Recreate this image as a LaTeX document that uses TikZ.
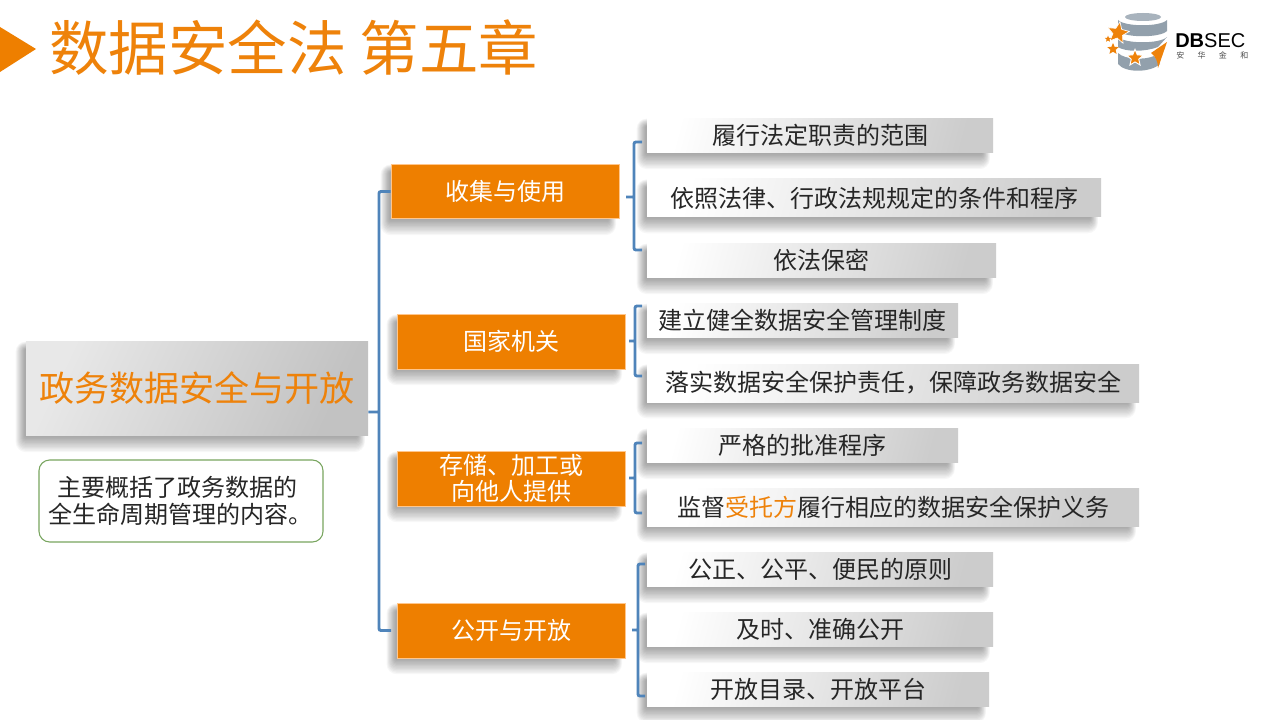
\documentclass[tikz,border=0pt]{standalone}
\usepackage{fontspec}
\setmainfont{Noto Sans CJK SC}
\newfontfamily\latinfont{Liberation Sans}
\usetikzlibrary{backgrounds}
\usetikzlibrary{shapes.geometric}
\definecolor{title_orange}{RGB}{238, 130, 10}
\definecolor{box_orange}{RGB}{238, 127, 0}
\definecolor{link_blue}{RGB}{79, 132, 186}
\definecolor{note_green}{RGB}{120, 165, 95}
\definecolor{logo_grey}{RGB}{146, 160, 172}
\tikzset{
  rootbox/.style={left color=black!9, middle color=black!4, right color=black!24, shading angle=65, text=title_orange, font=\fontsize{26.3}{30}\selectfont, inner sep=0pt},
  groupbox/.style={fill=box_orange, draw=orange!45, line width=0.5pt, text=white, font=\fontsize{18}{20}\selectfont, align=center, inner sep=0pt},
  leafbox/.style={left color=white, middle color=black!4, right color=black!20, shading angle=75, text=black!85, font=\fontsize{18}{20}\selectfont, inner sep=0pt},
  link/.style={link_blue, line width=2.2pt, rounded corners=1.5pt},
  badge/.style={star, star points=5, star point ratio=2.2, fill=title_orange, inner sep=0pt}
}
\begin{document}
\begin{tikzpicture}[x=0.75pt, y=-0.75pt]
\useasboundingbox (0,0) rectangle (1280,720);
% title
\fill[box_orange] (0,27) -- (36,49) -- (0,72) -- cycle;
\node[text=title_orange, font=\fontsize{44.6}{50}\selectfont, anchor=west, inner sep=0pt] (title) at (49,48) {数据安全法 第五章};
% logo
\fill[logo_grey!80] (1143,17) ellipse (18 and 4);
\fill[logo_grey] (1118,20) .. controls (1125,27) and (1160,27) .. (1167,20) -- (1167,31) .. controls (1160,38) and (1125,38) .. (1118,31) -- cycle;
\fill[logo_grey] (1118,37) .. controls (1125,44) and (1160,44) .. (1167,37) -- (1158,47) .. controls (1145,52) and (1125,52) .. (1118,47) -- cycle;
\fill[logo_grey] (1118,53) .. controls (1125,60) and (1145,60) .. (1154,56) -- (1160,64) .. controls (1150,73) and (1125,73) .. (1118,64) -- cycle;
\node[badge, minimum size=17pt, rotate=-10, draw=white, line width=0.5pt] (logostara) at (1118,33) {};
\node[badge, minimum size=5pt] (logostarb) at (1108,39) {};
\node[badge, minimum size=9pt] (logostarc) at (1113,49) {};
\node[badge, minimum size=13pt, draw=white, line width=0.7pt] (logostard) at (1135,58) {};
\fill[title_orange] (1167,42) -- (1158,68) .. controls (1158,62) and (1156,57) .. (1151,53) -- cycle;
\node[font=\latinfont\fontsize{15}{15}\selectfont, anchor=west, inner sep=0pt] (logotext) at (1175,41) {\textbf{DB}SEC};
\node[font=\fontsize{6}{6}\selectfont, text=black!70, anchor=west, inner sep=0pt] (logosub) at (1176,55) {安\hspace{10pt}华\hspace{10pt}金\hspace{10pt}和};
% left part
\node[rootbox, minimum width=256.5pt, minimum height=71pt] (root) at (197,388.5) {政务数据安全与开放};
\node[draw=note_green, line width=0.8pt, rounded corners=8pt, minimum width=213pt, minimum height=61.5pt, font=\fontsize{18}{20}\selectfont, align=center, inner sep=0pt, text=black!85] (note) at (181,501) {主要概括了政务数据的\hspace*{5pt}\\\hspace*{-1pt}全生命周期管理的内容。};
% groups
\node[groupbox, minimum width=171pt, minimum height=41pt] (collect) at (505,191.5) {收集与使用};
\node[groupbox, minimum width=171pt, minimum height=41pt] (organ) at (511,341.5) {国家机关};
\node[groupbox, minimum width=171pt, minimum height=41pt] (store) at (511,478.5) {存储、加工或\\[-1pt]向他人提供};
\node[groupbox, minimum width=171pt, minimum height=41pt] (public) at (511,630.5) {公开与开放};
% leaves
\node[leafbox, minimum width=259.5pt, minimum height=26pt] (a1) at (820,135.5) {履行法定职责的范围};
\node[leafbox, minimum width=340.5pt, minimum height=28.5pt] (a2) at (874,198) {依照法律、行政法规规定的条件和程序};
\node[leafbox, minimum width=261.75pt, minimum height=26pt] (a3) at (821.5,260.5) {依法保密};
\node[leafbox, minimum width=233.25pt, minimum height=26pt] (b1) at (802.5,320.5) {建立健全数据安全管理制度};
\node[leafbox, minimum width=369pt, minimum height=28.5pt] (b2) at (893,383) {落实数据安全保护责任，保障政务数据安全};
\node[leafbox, minimum width=233.25pt, minimum height=26pt] (c1) at (802.5,445.5) {严格的批准程序};
\node[leafbox, minimum width=369pt, minimum height=28.5pt] (c2) at (893,507) {监督\textcolor{title_orange}{受托方}履行相应的数据安全保护义务};
\node[leafbox, minimum width=259.5pt, minimum height=26pt] (d1) at (820,569.5) {公正、公平、便民的原则};
\node[leafbox, minimum width=259.5pt, minimum height=26pt] (d2) at (820,629.5) {及时、准确公开};
\node[leafbox, minimum width=256.5pt, minimum height=26pt] (d3) at (818,689.5) {开放目录、开放平台};
% shadows
\begin{scope}[on background layer]
\fill[white] (0,0) rectangle (1280,720);
\foreach \n in {root,collect,organ,store,public,a1,a2,a3,b1,b2,c1,c2,d1,d2,d3}
  \foreach \g in {0,...,11}
    \fill[black, opacity=0.03, rounded corners={(1+0.6*\g)*1pt}]
      ([xshift={(-1-0.6*\g)*1pt}, yshift={(-1-1*\g)*1pt}]\n.south west)
      rectangle ([xshift={(-8+0.5*\g)*1pt}, yshift={(-6+0.5*\g)*1pt}]\n.north east);
\end{scope}
% connectors
\coordinate (trunk) at (379,412);
\coordinate (publicin) at (391,630.5);
\coordinate (sa) at (634,197);
\coordinate (saf) at (626,197);
\coordinate (sat) at (642,142);
\coordinate (sab) at (642,250);
\coordinate (sb) at (635,341);
\coordinate (sbf) at (629,341);
\coordinate (sbt) at (642,306);
\coordinate (sbb) at (642,376);
\coordinate (sc) at (635,478);
\coordinate (scf) at (629,478);
\coordinate (sct) at (642,443);
\coordinate (scb) at (642,513);
\coordinate (sd) at (638,630);
\coordinate (sdf) at (632,630);
\coordinate (sdt) at (645,564);
\coordinate (sdb) at (645,696);
\draw[link] (collect.west) -| (trunk) |- (publicin) (root.east |- trunk) -- (trunk);
\draw[link] (sat) -| (sa) |- (sab) (saf) -- (sa);
\draw[link] (sbt) -| (sb) |- (sbb) (sbf) -- (sb);
\draw[link] (sct) -| (sc) |- (scb) (scf) -- (sc);
\draw[link] (sdt) -| (sd) |- (sdb) (sdf) -- (sd);
\end{tikzpicture}
\end{document}
